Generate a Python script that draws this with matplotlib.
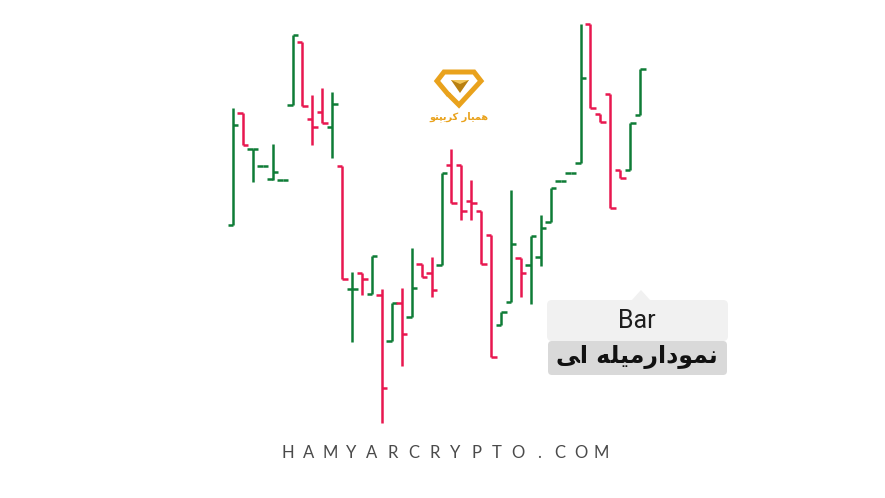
import matplotlib
matplotlib.use("Agg")
import matplotlib.pyplot as plt
from matplotlib.patches import FancyBboxPatch, Polygon

# OHLC values (arbitrary price units)
opens = [225, 337, 301, 284, 271, 270, 345, 408, 331, 338, 323, 284, 161, 177,
         156, 155, 109, 147, 133, 186, 177, 185, 285, 285, 249, 239, 215, 125,
         148, 192, 185, 193, 228, 269, 277, 287, 426, 336, 356, 280, 280, 335]
highs = [342, 337, 301, 284, 306, 270, 415, 408, 355, 362, 358, 284, 178, 177,
         194, 161, 147, 162, 202, 186, 193, 277, 301, 285, 270, 239, 215, 138,
         260, 192, 214, 235, 262, 269, 277, 426, 426, 336, 356, 280, 327, 381]
lows = [225, 305, 268, 284, 270, 270, 345, 344, 305, 327, 292, 171, 108, 155,
        156, 27, 109, 84, 133, 173, 153, 185, 247, 230, 230, 186, 93, 125,
        148, 153, 146, 184, 228, 269, 277, 287, 342, 328, 242, 272, 280, 335]
closes = [325, 305, 301, 284, 278, 270, 415, 344, 323, 327, 346, 171, 161, 171,
          194, 62, 147, 116, 162, 173, 160, 277, 247, 239, 247, 186, 93, 138,
          206, 177, 214, 222, 262, 269, 277, 372, 342, 328, 242, 272, 327, 381]

green = "#0e7c36"
red = "#e8174f"
gold = "#e9a21c"

fig = plt.figure(figsize=(8.85, 4.98), dpi=100)
ax = fig.add_axes([0, 0, 1, 1])
ax.set_xlim(-23.46, 65.66)
ax.set_ylim(-48, 450)
ax.axis("off")

tick = 0.55
for i in range(len(opens)):
    c = green if closes[i] >= opens[i] else red
    ax.vlines(i, lows[i], highs[i], color=c, lw=1.8)
    ax.hlines(opens[i], i - tick, i, color=c, lw=1.8)
    ax.hlines(closes[i], i, i + tick, color=c, lw=1.8)

# decoration layer in pixel coordinates
deco = fig.add_axes([0, 0, 1, 1], facecolor="none")
deco.set_xlim(0, 885)
deco.set_ylim(498, 0)
deco.axis("off")

# logo
deco.plot([447, 437, 444, 474, 481, 459, 450], [93, 81, 72, 72, 81, 105, 96],
          color=gold, lw=3.6, solid_joinstyle="miter")
deco.add_patch(Polygon([[451, 80], [469, 80], [460, 93]], closed=True,
                       facecolor="#b9800f", edgecolor="none"))
deco.add_patch(Polygon([[451, 80], [469, 80], [460, 84]], closed=True,
                       facecolor="#f3c75a", edgecolor="none"))
logo_text = "\uFEEE\uFE98\uFB59\uFEF3\uFEAE\uFB90 \uFEAD\uFE8E\uFEF4\uFEE4\uFEEB"
deco.text(459, 117, logo_text, ha="center", va="center", fontsize=7,
          fontweight="bold", color=gold, family="DejaVu Sans")

# label box
deco.add_patch(FancyBboxPatch((548, 341), 179, 34,
                              boxstyle="round,pad=0,rounding_size=4",
                              facecolor="#d9d9d9", edgecolor="none"))
deco.add_patch(FancyBboxPatch((547, 300), 181, 41,
                              boxstyle="round,pad=0,rounding_size=5",
                              facecolor="#f1f1f1", edgecolor="none"))
deco.add_patch(Polygon([[631, 301], [641, 290], [651, 301]], closed=True,
                       facecolor="#f1f1f1", edgecolor="none"))
deco.text(637, 321, "Bar", ha="center", va="center", fontsize=18,
          color="#1e1e1e", family="Roboto")
label_fa = "\uFEF0\uFE8D \uFEEA\uFEE0\uFEF4\uFEE3\uFEAD\uFE8D\uFEA9\uFEEE\uFEE4\uFEE7"
deco.text(637, 357, label_fa, ha="center", va="center", fontsize=17,
          fontweight="bold", color="#111111", family="DejaVu Sans")

# footer
site = "HAMYARCRYPTO.COM"
for k, ch in enumerate(site):
    deco.text(288 + k * 20.9, 453, ch, ha="center", va="center", fontsize=12,
              color="#4a4a4a", family="Lato")

fig.savefig("out.png", dpi=100, facecolor="white")
